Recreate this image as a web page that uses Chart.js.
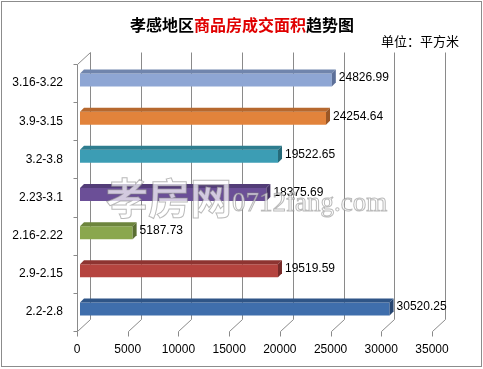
<!DOCTYPE html>
<html lang="zh">
<head>
    <meta charset="UTF-8">
    <title>孝感地区商品房成交面积趋势图</title>
    <script src="https://cdn.jsdelivr.net/npm/chart.js"></script>
    <style>
        body { margin: 0; background: #fff; }
        #chartCanvas { display: block; }
    </style>
</head>
<body>
<canvas id="chartCanvas" width="483" height="369"></canvas>

<script>
    // data (bottom to top, chronological)
    const weeks = ['2.2-2.8', '2.9-2.15', '2.16-2.22', '2.23-3.1', '3.2-3.8', '3.9-3.15', '3.16-3.22'];
    const areaValues = [30520.25, 19519.59, 5187.73, 18375.69, 19522.65, 24254.64, 24826.99];
    const xMin = 0;
    const xMax = 35000;
    const xStep = 5000;

    const frontColors = ['#3f6eac', '#b5443f', '#8aa74e', '#6b4f97', '#3c9db4', '#e2833b', '#8ea6d4'];
    const topColors   = ['#2f5587', '#8e3431', '#6d853d', '#533d78', '#2e7d8f', '#b6682e', '#7085ad'];
    const sideColors  = ['#264571', '#772a28', '#5a6e32', '#453264', '#256a79', '#9a5726', '#5d709a'];

    const FONT = '"Liberation Sans", Arial, sans-serif';
    const CJK = '"Noto Sans CJK SC", sans-serif';
    const GRID = '#8a8a8a';
    const DEPTH_X = 13, DEPTH_Y = -12;   // wall depth
    const BAR_DX = 3, BAR_DY = -3;       // bar position inside the depth
    const BAR_D = 4;                     // bar thickness in depth

    // 3d frame: back wall gridlines, floor diagonals, left wall
    const frame3d = {
        id: 'frame3d',
        beforeDatasetsDraw(chart) {
            const ctx = chart.ctx;
            const a = chart.chartArea;
            const xs = chart.scales.x;
            ctx.save();
            ctx.strokeStyle = GRID;
            ctx.lineWidth = 1;
            ctx.beginPath();
            for (let v = xMin; v <= xMax; v += xStep) {
                const px = Math.round(xs.getPixelForValue(v)) + 0.5;
                const b = Math.round(a.bottom) + 0.5;
                ctx.moveTo(px, b + 5);
                ctx.lineTo(px, b);
                ctx.lineTo(px + DEPTH_X, b + DEPTH_Y);
                ctx.lineTo(px + DEPTH_X, Math.round(a.top) + 0.5 + DEPTH_Y);
            }
            // left wall
            const l = Math.round(a.left) + 0.5;
            const t = Math.round(a.top) + 0.5;
            ctx.moveTo(l + DEPTH_X, t + DEPTH_Y);
            ctx.lineTo(l, t);
            ctx.lineTo(l, Math.round(a.bottom) + 0.5);
            const n = weeks.length;
            const step = (a.bottom - a.top) / n;
            for (let i = 0; i <= n; i++) {
                const y = Math.round(a.top + i * step) + 0.5;
                ctx.moveTo(l - 4, y);
                ctx.lineTo(l, y);
            }
            ctx.stroke();
            ctx.restore();

            ctx.save();
            ctx.translate(BAR_DX, BAR_DY);
        },
        afterDatasetsDraw(chart) {
            const ctx = chart.ctx;
            const bars = chart.getDatasetMeta(0).data;
            bars.forEach((bar, i) => {
                const x0 = bar.base, x1 = bar.x;
                const yT = bar.y - bar.height / 2, yB = bar.y + bar.height / 2;
                // top face
                ctx.fillStyle = topColors[i];
                ctx.beginPath();
                ctx.moveTo(x0, yT);
                ctx.lineTo(x0 + BAR_D, yT - BAR_D);
                ctx.lineTo(x1 + BAR_D, yT - BAR_D);
                ctx.lineTo(x1, yT);
                ctx.closePath();
                ctx.fill();
                // right face
                ctx.fillStyle = sideColors[i];
                ctx.beginPath();
                ctx.moveTo(x1, yT);
                ctx.lineTo(x1 + BAR_D, yT - BAR_D);
                ctx.lineTo(x1 + BAR_D, yB - BAR_D);
                ctx.lineTo(x1, yB);
                ctx.closePath();
                ctx.fill();
            });
            ctx.restore();

            // value labels
            ctx.save();
            ctx.fillStyle = '#000';
            ctx.font = '12px ' + FONT;
            ctx.textAlign = 'left';
            ctx.textBaseline = 'middle';
            bars.forEach((bar, i) => {
                ctx.fillText(areaValues[i].toFixed(2), bar.x + BAR_DX + 7, bar.y + BAR_DY - 2);
            });
            ctx.restore();
        },
        afterDraw(chart) {
            const ctx = chart.ctx;
            ctx.save();
            // watermark
            ctx.lineWidth = 1;
            ctx.fillStyle = 'rgba(255,255,255,0.7)';
            ctx.strokeStyle = 'rgba(130,130,130,0.55)';
            ctx.textBaseline = 'alphabetic';
            ctx.textAlign = 'left';
            ctx.font = 'bold 42px ' + CJK;
            ctx.fillText('孝房网', 106, 214);
            ctx.strokeText('孝房网', 106, 214);
            ctx.font = '27px "Liberation Serif", serif';
            ctx.fillText('0712fang.com', 232, 211);
            ctx.strokeText('0712fang.com', 232, 211);

            // title, mixed colours
            const parts = [['孝感地区', '#000'], ['商品房成交面积', '#e00000'], ['趋势图', '#000']];
            ctx.font = 'bold 16px ' + CJK;
            ctx.textBaseline = 'middle';
            let w = 0;
            parts.forEach(p => { w += ctx.measureText(p[0]).width; });
            let x = 242 - w / 2;
            parts.forEach(p => {
                ctx.fillStyle = p[1];
                ctx.fillText(p[0], x, 25);
                x += ctx.measureText(p[0]).width;
            });
            // unit
            ctx.font = '13px ' + CJK;
            ctx.fillStyle = '#000';
            ctx.fillText('单位：平方米', 381, 41);

            // outer border
            ctx.strokeStyle = '#8c8c8c';
            ctx.lineWidth = 1;
            ctx.strokeRect(1.5, 1.5, 480, 365);
            ctx.restore();
        }
    };

    const ctx = document.getElementById('chartCanvas').getContext('2d');
    const chart = new Chart(ctx, {
        type: 'bar',
        data: {
            labels: weeks,
            datasets: [{
                label: '成交面积',
                data: areaValues,
                backgroundColor: frontColors,
                borderWidth: 0,
                barPercentage: 0.34,
                categoryPercentage: 1
            }]
        },
        options: {
            indexAxis: 'y',
            responsive: false,
            animation: false,
            layout: { padding: { top: 64, right: 51, bottom: 0, left: 0 } },
            plugins: {
                legend: { display: false },
                tooltip: { enabled: false }
            },
            scales: {
                x: {
                    type: 'linear',
                    min: xMin,
                    max: xMax,
                    ticks: {
                        stepSize: xStep, color: '#000', font: { size: 12, family: FONT }, padding: 11, maxRotation: 0,
                        callback: v => String(v)
                    },
                    grid: { display: false, drawTicks: false },
                    border: { display: false },
                    afterFit: s => { s.height = 38; }
                },
                y: {
                    reverse: true,
                    ticks: { color: '#000', font: { size: 12, family: FONT }, padding: 14 },
                    grid: { display: false, drawTicks: false },
                    border: { display: false },
                    afterFit: s => { s.width = 77; }
                }
            }
        },
        plugins: [frame3d]
    });
</script>
</body>
</html>
